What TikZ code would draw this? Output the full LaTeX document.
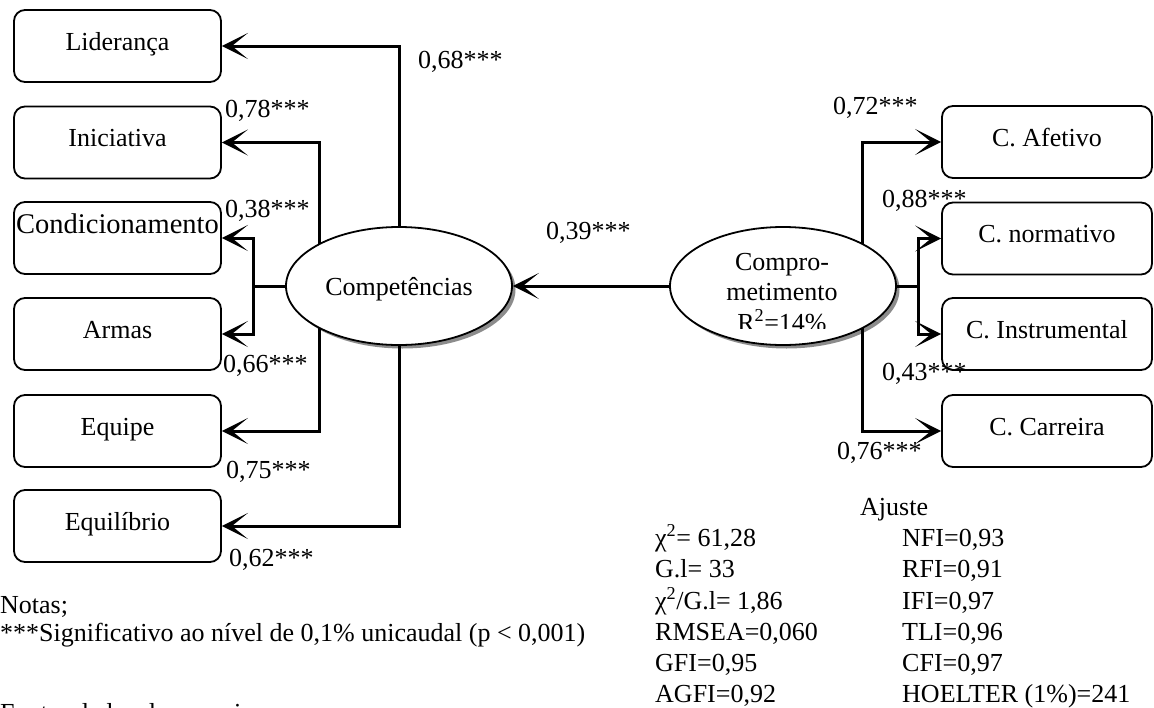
\documentclass[tikz,border=0pt]{standalone}
\usepackage{fontspec}
\setmainfont{Liberation Serif}
\usetikzlibrary{arrows.meta,shapes.geometric,shadows}

\begin{document}
\begin{tikzpicture}[x=1pt,y=-1pt,
  every node/.style={font=\fontsize{26}{30}\selectfont},
  box/.style={draw, line width=1.8pt, rounded corners=11pt, minimum width=207pt,
    minimum height=72pt, inner sep=0pt, text height=17pt, text depth=9pt},
  rbox/.style={box, minimum width=210pt},
  latent/.style={ellipse, draw, line width=1.8pt, fill=white, minimum width=226pt,
    minimum height=118pt, inner sep=0pt,
    general shadow={fill=black!45, shadow xshift=3.5pt, shadow yshift=-3.5pt}},
  wire/.style={line width=3pt},
  conn/.style={wire, -{Stealth[length=26pt,width=26pt,inset=16pt]}},
  coef/.style={anchor=base west, inner sep=0pt},
  txt/.style={anchor=base west, inner sep=0pt},
]
\path[use as bounding box, fill=white] (0,0) rectangle (1154,707);

% indicators of Competencias
\node[box] (lid) at (117.5,46)  {Liderança};
\node[box] (ini) at (117.5,142.5) {Iniciativa};
\node[box] (cnd) at (117.5,238) {\raisebox{9pt}{\fontsize{28.5}{32}\selectfont Condicionamento}};
\node[box] (arm) at (117.5,334) {Armas};
\node[box] (eqp) at (117.5,431) {Equipe};
\node[box] (eql) at (117.5,526) {Equilíbrio};

% indicators of Comprometimento
\node[rbox] (afe) at (1047,142)   {C. Afetivo};
\node[rbox] (nor) at (1047,238.5) {C. normativo};
\node[rbox] (ins) at (1047,334)   {C. Instrumental};
\node[rbox] (car) at (1047,431)   {C. Carreira};

% latent variables
\node[latent, text height=18pt, text depth=0pt] (cmp) at (399,286) {Competências};
\node[latent] (com) at (783,286) {};
\begin{scope}
  \clip (690,230) rectangle (880,328);
  \node[anchor=base, inner sep=0pt] (comT1) at (782,270) {Compro-};
  \node[anchor=base, inner sep=0pt] (comT2) at (782,300) {metimento};
  \node[anchor=base, inner sep=0pt] (comT3) at (782,331) {R\textsuperscript{2}=14\%};
\end{scope}

% branch points on the ellipse borders
\coordinate (cmpA) at (319,244.3);
\coordinate (cmpB) at (319,327.7);
\coordinate (cmpJ) at (253,286);
\coordinate (comA) at (862,243.8);
\coordinate (comB) at (862,328.2);
\coordinate (comJ) at (918,286);

% paths
\draw[conn] (cmp.north) |- (lid.east);
\draw[conn] (cmpA) |- (ini.east);
\draw[wire] (cmp.west) -- (cmpJ);
\draw[conn] (cmpJ) |- (cnd.east);
\draw[conn] (cmpJ) |- (arm.east);
\draw[conn] (cmpB) |- (eqp.east);
\draw[conn] (cmp.south) |- (eql.east);
\draw[conn] (com.west) -- (cmp.east);
\draw[conn] (comA) |- (afe.west);
\draw[wire] (com.east) -- (comJ);
\draw[conn] (comJ) |- (nor.west);
\draw[conn] (comJ) |- (ins.west);
\draw[conn] (comB) |- (car.west);

% coefficients
\node[coef] (k1)  at (418,68)  {0,68***};
\node[coef] (k2)  at (225,117) {0,78***};
\node[coef] (k3)  at (225,217) {0,38***};
\node[coef] (k4)  at (223,372) {0,66***};
\node[coef] (k5)  at (226,478) {0,75***};
\node[coef] (k6)  at (229,566) {0,62***};
\node[coef] (k7)  at (546,239) {0,39***};
\node[coef] (k8)  at (833,114) {0,72***};
\node[coef] (k9)  at (882,207) {0,88***};
\node[coef] (k10) at (882,380) {0,43***};
\node[coef] (k11) at (837,459) {0,76***};

% fit indices
\node[txt] (fit) at (860,515) {Ajuste};
\node[txt] (f1) at (655,546) {χ\textsuperscript{2}= 61,28};
\node[txt] (f2) at (655,577) {G.l= 33};
\node[txt] (f3) at (655,609) {χ\textsuperscript{2}/G.l= 1,86};
\node[txt] (f4) at (655,640) {RMSEA=0,060};
\node[txt] (f5) at (655,671) {GFI=0,95};
\node[txt] (f6) at (655,702) {AGFI=0,92};
\node[txt] (g1) at (902,546) {NFI=0,93};
\node[txt] (g2) at (902,577) {RFI=0,91};
\node[txt] (g3) at (902,609) {IFI=0,97};
\node[txt] (g4) at (902,640) {TLI=0,96};
\node[txt] (g5) at (902,671) {CFI=0,97};
\node[txt] (g6) at (902,702) {HOELTER (1\%)=241};

% notes
\node[txt] (n1) at (0,613) {Notas;};
\node[txt] (n2) at (0,641) {***Significativo ao nível de 0,1\% unicaudal (p < 0,001)};
\node[txt] (n3) at (0,721) {Fonte: dados da pesquisa};
\end{tikzpicture}
\end{document}
